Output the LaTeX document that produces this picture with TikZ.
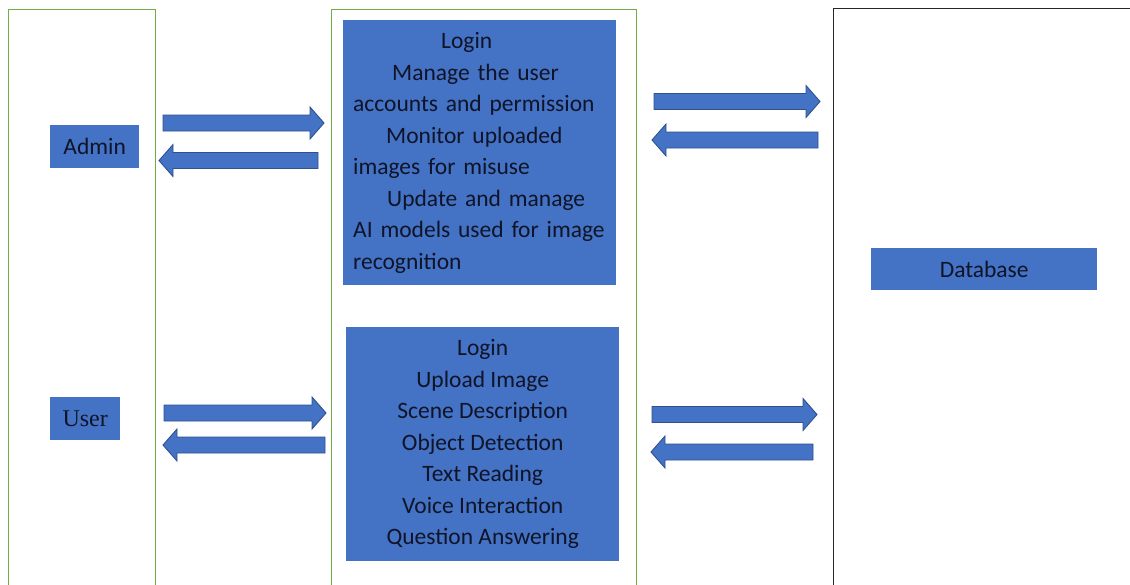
\documentclass[tikz,border=0pt]{standalone}
\usepackage{fontspec}
\setmainfont{Carlito}
\newfontface\usertimes{Liberation Serif}[Scale=1]
\usetikzlibrary{calc}
\definecolor{boxblue}{RGB}{68,114,196}
\definecolor{edgeblue}{RGB}{47,82,143}
\definecolor{lanegreen}{RGB}{112,173,71}
\definecolor{txt}{RGB}{15,20,40}
\tikzset{
  lane/.style={draw=lanegreen, line width=0.9pt, fill=none, anchor=north west, inner sep=0pt},
  dblane/.style={draw=black!85, line width=1.3pt, fill=none, anchor=north west, inner sep=0pt},
  bluebox/.style={fill=boxblue, draw=none, text=txt, anchor=north west, inner sep=0pt,
    font=\fontsize{23.5}{31.5}\selectfont},
  blockarrow/.style={fill=boxblue, draw=edgeblue, line width=0.9pt, line join=miter}
}
\newcommand{\blockarr}[2]{%
  \path[blockarrow] let \p1=(#1), \p2=(#2), \n1={sign(\x2-\x1)} in
  (\x1,\y1+8pt) -- ({\x2-\n1*14pt},\y1+8pt) -- ({\x2-\n1*14pt},\y1+16pt) -- (\x2,\y1)
  -- ({\x2-\n1*14pt},\y1-16pt) -- ({\x2-\n1*14pt},\y1-8pt) -- (\x1,\y1-8pt) -- cycle;}
\begin{document}
\begin{tikzpicture}[x=1pt,y=-1pt]
\useasboundingbox (0,0) rectangle (1130,584);
\clip (0,0) rectangle (1130,584);
\fill[white] (0,0) rectangle (1130,584);
% lanes
\node[lane, minimum width=147pt, minimum height=600pt] (adminlane) at (8,9) {};
\node[lane, minimum width=305pt, minimum height=600pt] (panellane) at (331,9) {};
\node[dblane, minimum width=320pt, minimum height=600pt] (dblane) at (833,8) {};
% boxes
\node[bluebox, minimum width=89pt, minimum height=43pt, align=center] (admin) at (50,125) {Admin};
\node[bluebox, minimum width=70pt, minimum height=43pt, font=\usertimes\fontsize{24}{28}\selectfont] (user) at (50,397) {User};
\node[bluebox, minimum width=273pt, minimum height=265pt, text width=253pt, inner xsep=10pt, align=left] (adminpanel) at (343,20) {%
\hspace*{88pt}Login\\
\hspace*{39pt}Manage the user\\
accounts and permission\\
\hspace*{33pt}Monitor uploaded\\
images for misuse\\
\hspace*{34pt}Update and manage\\
AI models used for image\\
recognition};
\node[bluebox, minimum width=273pt, minimum height=234pt, align=center] (userpanel) at (346,327) {%
Login\\ Upload Image\\ Scene Description\\ Object Detection\\ Text Reading\\ Voice Interaction\\ Question Answering};
\node[bluebox, minimum width=226pt, minimum height=42pt, align=center] (database) at (871,248) {Database};
% arrow end points
\coordinate (a1s) at (163,123);   \coordinate (a1e) at (324,123);
\coordinate (a2s) at (318,160.5); \coordinate (a2e) at (159,160.5);
\coordinate (a3s) at (654,101.5); \coordinate (a3e) at (820,101.5);
\coordinate (a4s) at (818,140);   \coordinate (a4e) at (652,140);
\coordinate (a5s) at (652,414.5); \coordinate (a5e) at (817,414.5);
\coordinate (a6s) at (813,452);   \coordinate (a6e) at (651,452);
\coordinate (a7s) at (164,413);   \coordinate (a7e) at (326,413);
\coordinate (a8s) at (325,445);   \coordinate (a8e) at (163,445);
\blockarr{a1s}{a1e}
\blockarr{a2s}{a2e}
\blockarr{a3s}{a3e}
\blockarr{a4s}{a4e}
\blockarr{a5s}{a5e}
\blockarr{a6s}{a6e}
\blockarr{a7s}{a7e}
\blockarr{a8s}{a8e}
\end{tikzpicture}
\end{document}
